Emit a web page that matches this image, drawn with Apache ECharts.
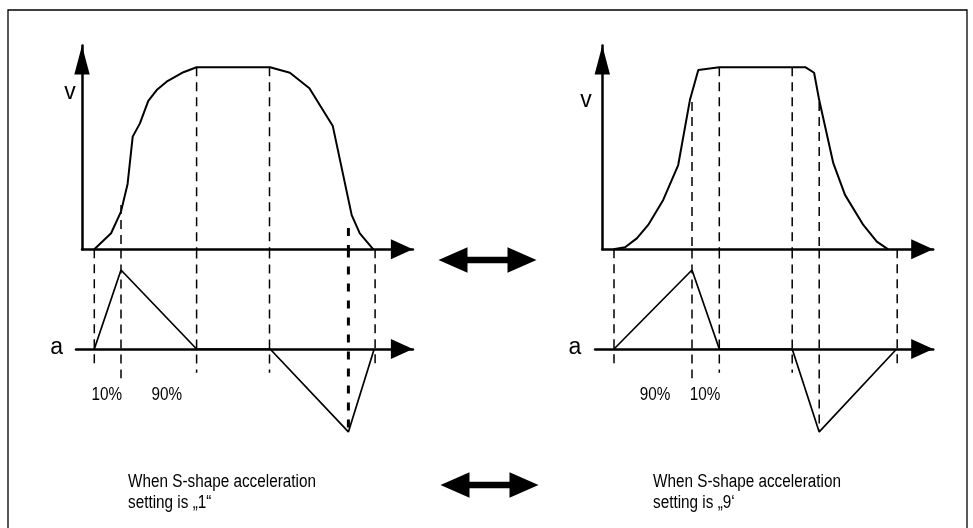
<!DOCTYPE html>
<html>
<head>
<meta charset="utf-8">
<script src="https://cdn.jsdelivr.net/npm/echarts@6/dist/echarts.min.js"></script>
<style>
  html, body { margin: 0; padding: 0; background: #fff; }
  #chart { width: 973px; height: 528px; }
</style>
</head>
<body>
<div id="chart"></div>
<script>
// ---------- data (time in arbitrary units, v in % of top speed, a in % of peak) ----------
// Left diagram: S-shape acceleration setting "1"
const leftVTime  = [4.1, 9.7, 13, 15.2, 16.9, 19.3, 22.1, 24.9, 28.2, 33.8, 38.2, 62.7, 69.3, 75.8, 83.6, 89.9, 92.6, 97.1];
const leftVValue = [0, 8.8, 20.7, 35.9, 61.9, 69.2, 81.6, 87.5, 92.1, 97.3, 100, 100, 97.0, 88.5, 67.7, 18.8, 8.8, 0];
const leftATime  = [4.1, 13, 38.2, 62.7, 88.8, 97.4];
const leftAValue = [0, 100, 0, 0, -105, 0];
const leftGuideTime   = [4.1, 13, 38.2, 62.5, 88.8, 97.7];
const leftGuideVTop   = [0, 24.3, 100, 100, 11.7, 0];
const leftGuideABot   = [-24, -37, -30, -30, -105, -24];

// Right diagram: S-shape acceleration setting "9"
const rightVTime  = [3.7, 7.6, 11.5, 15.3, 20.3, 25.3, 29.2, 32, 39, 67.8, 70.6, 72.3, 77, 80.9, 87, 91.5, 95.3];
const rightVValue = [0, 1.1, 6.0, 13.4, 27.1, 46.3, 82.0, 98.5, 100, 100, 97.0, 82.0, 47.3, 29.9, 13.4, 4.2, 0];
const rightATime  = [3.9, 29.9, 39, 63.3, 72.3, 98.1];
const rightAValue = [0, 100, 0, 0, -105, 0];
const rightGuideTime = [3.9, 29.9, 39, 63.3, 72.3, 98.3];
const rightGuideVTop = [0, 81, 100, 100, 81, 0];
const rightGuideABot = [-24, -37, -30, -30, -103, -24];

const leftPercentLabels  = ['10%', '90%'];
const rightPercentLabels = ['90%', '10%'];
const captionLeft  = ['When S-shape acceleration', 'setting is \u201E1\u201C'];
const captionRight = ['When S-shape acceleration', 'setting is \u201E9\u2018'];
const boldGuide = { side: 'left', index: 4 };

// ---------- layout ----------
const PX = 3;           // px per time unit
const VPX = 1.82;       // px per v unit
const APX = 0.79;       // px per a unit
const V_MAX = 112, A_MAX = 126, A_MIN = -115, T_MAX = 110.3;
const FONT = '"Liberation Sans", Arial, sans-serif';

function grids(axisX, baseY, aAxisStartT) {
  return [
    { left: axisX, top: baseY - V_MAX * VPX, width: T_MAX * PX, height: V_MAX * VPX },
    { left: axisX + aAxisStartT * PX, top: 349 - A_MAX * APX, width: (T_MAX - aAxisStartT) * PX, height: (A_MAX - A_MIN) * APX }
  ];
}
const G = [].concat(grids(82, 249.3, -2), grids(602.3, 249.3, -2.4));
const aStart = [0, -2, 0, -2.4];

const arrowX = { show: true, symbol: ['none', 'triangle'], symbolSize: [20, 22], symbolOffset: [0, -11],
  lineStyle: { color: '#000', width: 2.5 } };
const arrowY = { show: true, symbol: ['none', 'triangle'], symbolSize: [15.4, 29], symbolOffset: [0, -14.5],
  lineStyle: { color: '#000', width: 2.5 }, onZero: false };

const xAxes = G.map((g, i) => ({
  gridIndex: i, type: 'value', min: aStart[i], max: T_MAX,
  axisLine: Object.assign({}, arrowX, { onZero: true }),
  axisTick: { show: false }, axisLabel: { show: false }, splitLine: { show: false }
}));
const yAxes = G.map((g, i) => (i % 2 === 0 ? {
  gridIndex: i, type: 'value', min: 0, max: V_MAX,
  axisLine: arrowY, axisTick: { show: false }, axisLabel: { show: false }, splitLine: { show: false }
} : {
  gridIndex: i, type: 'value', min: A_MIN, max: A_MAX, show: false
}));

const zip = (a, b) => a.map((x, i) => [x, b[i]]);
const series = [];
function addSide(side, gV, gA, vt, vv, at, av, gt, gvt, gab) {
  gt.forEach((t, i) => {
    const bold = boldGuide.side === side && boldGuide.index === i;
    const ls = { color: '#000', width: bold ? 3 : 1.5, type: bold ? [8, 9] : [9, 6] };
    if (gvt[i] > 0) {
      series.push({ type: 'line', xAxisIndex: gV, yAxisIndex: gV, data: [[t, gvt[i]], [t, 0]],
        showSymbol: false, clip: false, lineStyle: ls, z: 1, silent: true });
    }
    series.push({ type: 'line', xAxisIndex: gA, yAxisIndex: gA, data: [[t, gvt[i] > 0 ? A_MAX : (349 - 249.3) / APX], [t, gab[i]]],
      showSymbol: false, clip: false, lineStyle: ls, z: 1, silent: true });
  });
  series.push({ type: 'line', xAxisIndex: gV, yAxisIndex: gV, data: zip(vt, vv), showSymbol: false,
    clip: false, lineStyle: { color: '#000', width: 2 }, z: 3, silent: true });
  series.push({ type: 'line', xAxisIndex: gA, yAxisIndex: gA, data: zip(at, av), showSymbol: false,
    clip: false, lineStyle: { color: '#000', width: 1.7 }, z: 3, silent: true });
}
addSide('left', 0, 1, leftVTime, leftVValue, leftATime, leftAValue, leftGuideTime, leftGuideVTop, leftGuideABot);
addSide('right', 2, 3, rightVTime, rightVValue, rightATime, rightAValue, rightGuideTime, rightGuideVTop, rightGuideABot);

function dblArrow(x0, y) {
  const L = 98, h = 29, H = 12.7, s = 3.3;
  return { type: 'polygon', silent: true, shape: { points: [
    [x0, y], [x0 + h, y - H], [x0 + h, y - s], [x0 + L - h, y - s], [x0 + L - h, y - H], [x0 + L, y],
    [x0 + L - h, y + H], [x0 + L - h, y + s], [x0 + h, y + s], [x0 + h, y + H]] },
    style: { fill: '#000' } };
}
function txt(x, y, text, size, align, vAlign, sx) {
  return { type: 'text', x: x, y: y, scaleX: sx || 1, silent: true,
    style: { x: 0, y: 0, text: text, font: size + 'px ' + FONT, fill: '#000',
      textAlign: align, align: align, textVerticalAlign: vAlign, verticalAlign: vAlign, lineHeight: 21 } };
}

const graphic = [
  { type: 'rect', silent: true, shape: { x: 8, y: 10, width: 959, height: 525 },
    style: { fill: 'none', stroke: '#000', lineWidth: 1.3 } },
  dblArrow(438.5, 260),
  dblArrow(440.5, 485),
  txt(70, 93, 'v', 23, 'center', 'middle'),
  txt(586, 101, 'v', 23, 'center', 'middle'),
  txt(56.7, 348, 'a', 23, 'center', 'middle'),
  txt(575, 348, 'a', 23, 'center', 'middle'),
  txt(106.7, 395, leftPercentLabels[0], 18, 'center', 'middle', 0.85),
  txt(166.7, 395, leftPercentLabels[1], 18, 'center', 'middle', 0.85),
  txt(655, 395, rightPercentLabels[0], 18, 'center', 'middle', 0.85),
  txt(705, 395, rightPercentLabels[1], 18, 'center', 'middle', 0.85),
  txt(128, 472, captionLeft.join('\n'), 18, 'left', 'top', 0.85),
  txt(653, 472, captionRight.join('\n'), 18, 'left', 'top', 0.85)
];

const chart = echarts.init(document.getElementById('chart'), null, { renderer: 'canvas' });
chart.setOption({
  animation: false,
  backgroundColor: '#fff',
  grid: G.map(g => Object.assign({ containLabel: false }, g)),
  xAxis: xAxes,
  yAxis: yAxes,
  series: series,
  graphic: graphic
});
</script>
</body>
</html>
